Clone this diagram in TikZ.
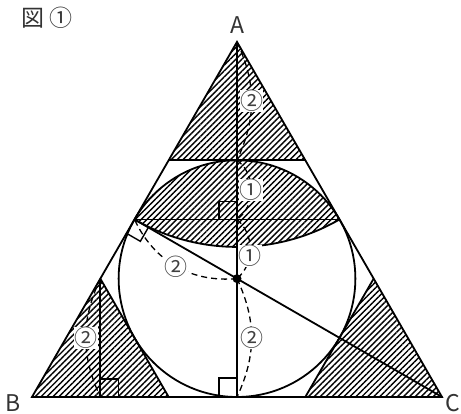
\documentclass[tikz,border=0pt]{standalone}
\usepackage{fontspec}
\setmainfont{Noto Sans CJK JP}
\usepackage{tikz}
\usetikzlibrary{calc, patterns.meta}

\begin{document}
\begin{tikzpicture}[x=1pt, y=1pt,
hatch/.style={pattern={Lines[angle=45, distance=4.2pt, line width=1.4pt]}},
edge/.style={line width=1.8pt},
dashline/.style={dash pattern=on 6pt off 4pt, line width=1.3pt},
rtangle/.style={line width=1.4pt},
num/.style={fill=white, inner sep=0.3pt, text=black!75, font=\fontsize{23}{23}\selectfont},
vlabel/.style={text=black!80, font=\fontsize{23}{23}\selectfont}]
\useasboundingbox (0,0) rectangle (461,414);
\coordinate (A) at (237,372.07);
\coordinate (B) at (32,17);
\coordinate (C) at (442,17);
\coordinate (O) at (237,135.36);
\coordinate (Mab) at (134.5,194.54);
\coordinate (Mac) at (339.5,194.54);
\coordinate (Mbc) at (237,17);
\coordinate (K) at (237,194.54);
\coordinate (T) at (237,253.71);
\coordinate (P1) at (168.67,253.71);
\coordinate (P2) at (305.33,253.71);
\coordinate (Q1) at (168.67,17);
\coordinate (Q2) at (305.33,17);
\coordinate (Rb) at (100.33,135.36);
\coordinate (Rc) at (373.67,135.36);
\coordinate (F) at (100.33,17);
\fill[hatch] (A) -- (P1) -- (P2) -- cycle;
\fill[hatch] (B) -- (Q1) -- (Rb) -- cycle;
\fill[hatch] (C) -- (Q2) -- (Rc) -- cycle;
\fill[hatch] (Mab) arc[start angle=150, end angle=30, radius=118.36] arc[start angle=-60, end angle=-120, radius=205] -- cycle;
\draw[edge] (A) -- (B) -- (C) -- cycle;
\draw[edge] (O) circle[radius=118.36];
\draw[edge] (P1) -- (P2);
\draw[edge] (Rb) -- (Q1);
\draw[edge] (Rc) -- (Q2);
\draw[edge] (Mab) -- (Mac);
\draw[edge] (Mac) arc[start angle=-60, end angle=-120, radius=205];
\draw[edge] (A) -- (Mbc);
\draw[edge] (Mab) -- (C);
\draw[edge] (Rb) -- (F);
\draw[rtangle] (Mbc) ++(-18,0) -- ++(0,19) -- ++(18,0);
\draw[rtangle] (K) ++(-18,0) -- ++(0,18) -- ++(18,0);
\draw[rtangle] (F) ++(18,0) -- ++(0,18) -- ++(-18,0);
\draw[rtangle] (Mab) ++(240:16) -- ++(-30:16) -- ++(60:16);
\fill (O) circle[radius=4.5];
\draw[dashline] (A) to[bend left=25] node[num] (n1) {②} (T);
\draw[dashline] (T) to[bend left=55] node[num] (n2) {①} (K);
\draw[dashline] (K) to[bend left=50] node[num, pos=0.6] (n3) {①} (O);
\draw[dashline] (O) to[bend left=25] node[num] (n4) {②} (Mbc);
\draw[dashline] (O) to[bend left=35] node[num] (n5) {②} (Mab);
\draw[dashline] (Rb) to[bend right=25] node[num] (n6) {②} (F);
\node[vlabel] (lA) at (237,389) {A};
\node[vlabel] (lB) at (13,11) {B};
\node[vlabel] (lC) at (453,11) {C};
\node[vlabel, anchor=west, inner sep=0pt] (title) at (21,396) {図 ①};
\end{tikzpicture}
\end{document}
